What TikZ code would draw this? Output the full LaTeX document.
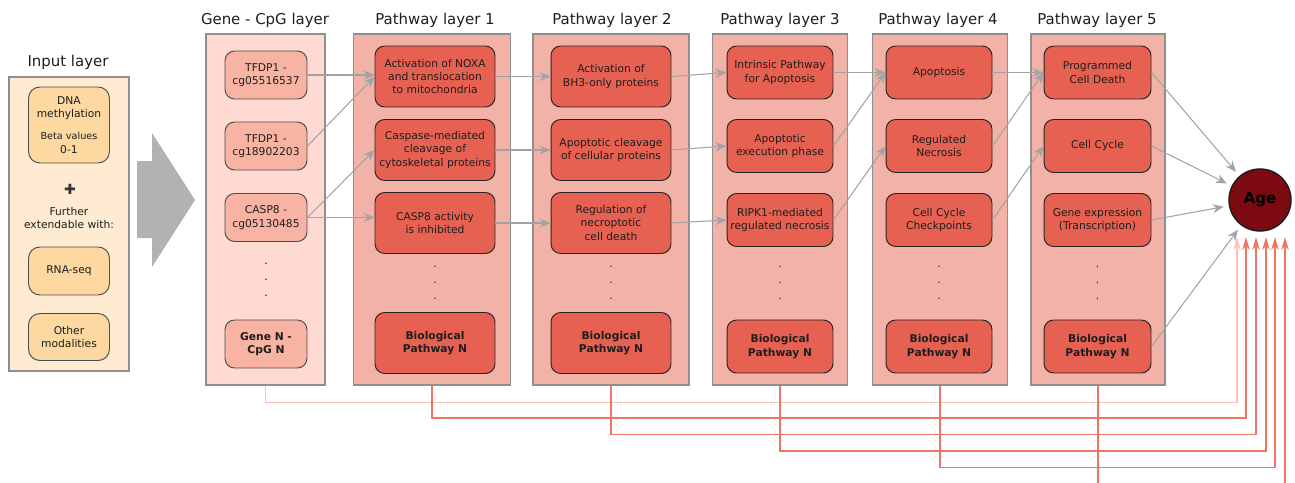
\documentclass[tikz,border=0pt]{standalone}
\usepackage{fontspec}
\setmainfont{DejaVu Sans}
\usetikzlibrary{arrows.meta}

\definecolor{cInBg}{HTML}{FEEBD2}
\definecolor{cInNode}{HTML}{FDD8A0}
\definecolor{cGeneBg}{HTML}{FEDAD2}
\definecolor{cGeneNode}{HTML}{F9B3A2}
\definecolor{cPathBg}{HTML}{F2B2A8}
\definecolor{cPathNode}{HTML}{E66151}
\definecolor{cAge}{HTML}{7D0A10}
\definecolor{cLink}{HTML}{A3A3A3}
\definecolor{cFrame}{HTML}{8F8F8F}
\definecolor{cAgeLink}{HTML}{EE7464}
\definecolor{cGeneLink}{HTML}{FBC3B7}
\definecolor{cText}{HTML}{1E1E1E}

\newcommand{\nodefont}{\fontsize{6.1}{7.6}\selectfont}

\begin{document}
\begin{tikzpicture}[x=0.02cm,y=-0.02cm,
  title/.style={font=\fontsize{8.5}{10}\selectfont,text=cText,inner sep=0pt},
  layer/.style={draw=cFrame,line width=0.8pt,inner sep=0pt},
  box/.style={draw=black!85,rounded corners=5.5pt,align=center,inner sep=0pt,
    font=\nodefont,text=cText,line width=0.55pt},
  innode/.style={box,draw=black!70,rounded corners=6.5pt,fill=cInNode,minimum width=1.62cm},
  cpg/.style={box,draw=black!70,fill=cGeneNode,minimum width=1.64cm,minimum height=0.96cm},
  pw/.style={box,fill=cPathNode,minimum width=2.4cm,minimum height=1.22cm},
  pws/.style={box,fill=cPathNode,minimum width=2.12cm,minimum height=1.06cm},
  vdots/.style={align=center,font=\fontsize{6.1}{9.1}\selectfont,inner sep=0pt,text=cText},
  link/.style={draw=cLink,line width=0.6pt,-{Stealth[length=2.2mm,width=1.8mm]}},
  agelink/.style={color=cAgeLink,line width=0.9pt,-{Stealth[length=2.6mm,width=1.5mm]}}]
\useasboundingbox (0,0) rectangle (1295,483);
\clip (0,0) rectangle (1295,483);

% input layer
\node[title] (tin) at (68,62) {Input layer};
\node[layer,fill=cInBg,minimum width=2.4cm,minimum height=5.88cm] (lin) at (69,224) {};
\node[innode,minimum height=1.52cm] (dna) at (69,125)
  {DNA\\methylation\\[5pt]\fontsize{5.5}{6.6}\selectfont Beta values\\0-1};
\node[font=\fontsize{8}{9}\selectfont,text=black!80,inner sep=0pt] (plus) at (70,189) {✚};
\node[vdots,font=\nodefont] (further) at (69,218) {Further\\extendable with:};
\node[innode,minimum height=0.96cm] (rna) at (69,271) {RNA-seq};
\node[innode,minimum height=0.94cm] (other) at (69,337) {Other\\modalities};

\fill[black!30] (137,161) -- (152,161) -- (152,133) -- (195,200) -- (152,267) -- (152,238) -- (137,238) -- cycle;

% gene - cpg layer
\node[title] (tg) at (265,20) {Gene - CpG layer};
\node[layer,fill=cGeneBg,minimum width=2.38cm,minimum height=7.02cm] (lg) at (265.5,209.5) {};
\node[cpg] (g1) at (266,75) {TFDP1 -\\cg05516537};
\node[cpg] (g2) at (266,146) {TFDP1 -\\cg18902203};
\node[cpg] (g3) at (266,217.5) {CASP8 -\\cg05130485};
\node[vdots] (gd) at (266,280) {.\\.\\.};
\node[cpg,font=\nodefont\bfseries] (gN) at (266,344) {Gene N -\\CpG N};

% pathway layer 1
\node[title] (t1) at (435,20) {Pathway layer 1};
\node[layer,fill=cPathBg,minimum width=3.14cm,minimum height=7.02cm] (l1) at (432,209.5) {};
\node[pw] (p1a) at (435,76.5) {Activation of NOXA\\and translocation\\to mitochondria};
\node[pw] (p1b) at (435,150) {Caspase-mediated\\cleavage of\\cytoskeletal proteins};
\node[pw] (p1c) at (435,223) {CASP8 activity\\is inhibited};
\node[vdots] (d1) at (435,283) {.\\.\\.};
\node[pw,font=\nodefont\bfseries] (p1N) at (435,343) {Biological\\Pathway N};

% pathway layer 2
\node[title] (t2) at (612,20) {Pathway layer 2};
\node[layer,fill=cPathBg,minimum width=3.12cm,minimum height=7.02cm] (l2) at (611,209.5) {};
\node[pw] (p2a) at (611,76.5) {Activation of\\BH3-only proteins};
\node[pw] (p2b) at (611,150) {Apoptotic cleavage\\of cellular proteins};
\node[pw] (p2c) at (611,223) {Regulation of\\necroptotic\\cell death};
\node[vdots] (d2) at (611,283) {.\\.\\.};
\node[pw,font=\nodefont\bfseries] (p2N) at (611,343) {Biological\\Pathway N};

% pathway layer 3
\node[title] (t3) at (780,20) {Pathway layer 3};
\node[layer,fill=cPathBg,minimum width=2.7cm,minimum height=7.02cm] (l3) at (780,209.5) {};
\node[pws] (p3a) at (780,72.5) {Intrinsic Pathway\\for Apoptosis};
\node[pws] (p3b) at (780,146) {Apoptotic\\execution phase};
\node[pws] (p3c) at (780,220) {RIPK1-mediated\\regulated necrosis};
\node[vdots] (d3) at (780,283) {.\\.\\.};
\node[pws,font=\nodefont\bfseries] (p3N) at (780,346.5) {Biological\\Pathway N};

% pathway layer 4
\node[title] (t4) at (938,20) {Pathway layer 4};
\node[layer,fill=cPathBg,minimum width=2.7cm,minimum height=7.02cm] (l4) at (940,209.5) {};
\node[pws] (p4a) at (939,72.5) {Apoptosis};
\node[pws] (p4b) at (939,146) {Regulated\\Necrosis};
\node[pws] (p4c) at (939,220) {Cell Cycle\\Checkpoints};
\node[vdots] (d4) at (939,283) {.\\.\\.};
\node[pws,font=\nodefont\bfseries] (p4N) at (939,346.5) {Biological\\Pathway N};

% pathway layer 5
\node[title] (t5) at (1097,20) {Pathway layer 5};
\node[layer,fill=cPathBg,minimum width=2.68cm,minimum height=7.02cm] (l5) at (1098,209.5) {};
\node[pws,minimum width=2.14cm] (p5a) at (1097.5,72.5) {Programmed\\Cell Death};
\node[pws,minimum width=2.14cm] (p5b) at (1097.5,146) {Cell Cycle};
\node[pws,minimum width=2.14cm] (p5c) at (1097.5,220) {Gene expression\\(Transcription)};
\node[vdots] (d5) at (1097.5,283) {.\\.\\.};
\node[pws,minimum width=2.14cm,font=\nodefont\bfseries] (p5N) at (1097.5,346.5) {Biological\\Pathway N};

% output
\node[circle,draw=black!90,line width=0.8pt,fill=cAge,minimum size=1.24cm,inner sep=0pt,
  font=\bfseries\fontsize{8.6}{10}\selectfont,text=black] (age) at (1260,200) {Age};

\draw[link] (g1.east) -- (g1.east -| p1a.west);
\draw[link] (g2.east) -- (p1a.west);
\draw[link] (g3.east) -- (p1b.west);
\draw[link] (g3.east) -- (g3.east -| p1c.west);
\draw[link] (p1a.east) -- (p2a.west);
\draw[link] (p1b.east) -- (p2b.west);
\draw[link] (p1c.east) -- (p2c.west);
\draw[link] (p2a.east) -- (p3a.west);
\draw[link] (p2b.east) -- (p3b.west);
\draw[link] (p2c.east) -- (p3c.west);
\draw[link] (p3a.east) -- (p4a.west);
\draw[link] (p3b.east) -- (p4a.west);
\draw[link] (p3c.east) -- (p4b.west);
\draw[link] (p4a.east) -- (p5a.west);
\draw[link] (p4b.east) -- (p5a.west);
\draw[link] (p4c.east) -- (p5b.west);
\draw[link,shorten >=3pt] (p5a.east) -- (age);
\draw[link,shorten >=3pt] (p5b.east) -- (age);
\draw[link,shorten >=3pt] (p5c.east) -- (age);
\draw[link,shorten >=3pt] (p5N.east) -- (age);

% skip links into the age node
\coordinate (a0) at (1237,237);
\coordinate (a1) at (1246,237);
\coordinate (a2) at (1256,237);
\coordinate (a3) at (1266,237);
\coordinate (a4) at (1275,237);
\coordinate (a5) at (1285,237);
\draw[agelink,color=cGeneLink] (lg.south) -- ++(0,17) -| (a0);
\draw[agelink] (l1.south) -- ++(0,32.5) -| (a1);
\draw[agelink] (l2.south) -- ++(0,49) -| (a2);
\draw[agelink] (l3.south) -- ++(0,65.5) -| (a3);
\draw[agelink] (l4.south) -- ++(0,82) -| (a4);
\draw[agelink] (l5.south) -- ++(0,105) -| (a5);
\end{tikzpicture}
\end{document}
